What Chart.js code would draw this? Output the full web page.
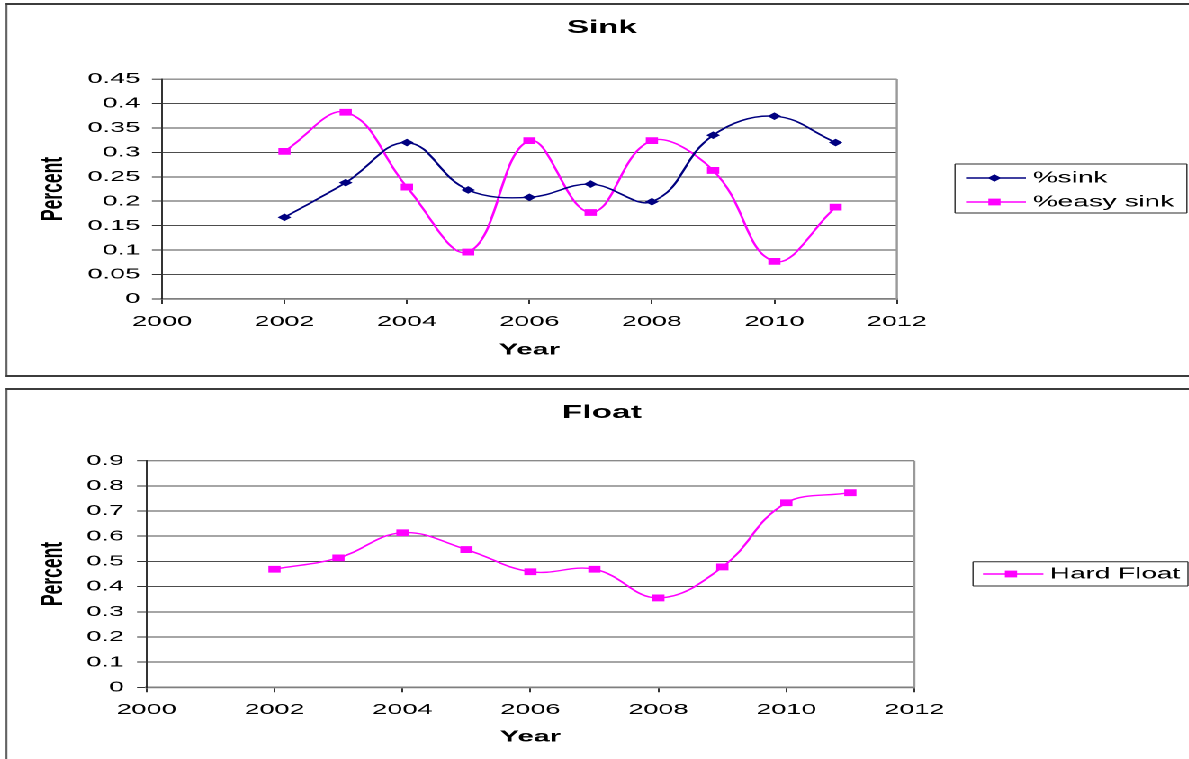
<!DOCTYPE html>
<html>
<head>
<meta charset="utf-8">
<title>Sink and Float</title>
<script src="https://cdn.jsdelivr.net/npm/chart.js@4.4.1/dist/chart.umd.min.js"></script>
<style>
  html, body { margin: 0; padding: 0; background: #fff; overflow: hidden; }
  body { width: 1189px; height: 759px; position: relative; }
  /* the whole sheet is drawn narrow and widened horizontally */
  #stage { position: absolute; left: 0; top: 0; width: 661px; height: 759px;
           transform: scaleX(1.8); transform-origin: 0 0; }
  .panel { position: absolute; box-sizing: border-box; background: #fff;
           border-style: solid; border-color: #3c3c3c; border-width: 2px 0 2px 1.2px; }
  canvas { position: absolute; left: 0; }
</style>
</head>
<body>
<div id="stage">
  <div class="panel" style="left:3.2px; top:3px; width:720px; height:374px;"></div>
  <div class="panel" style="left:3.2px; top:388px; width:720px; height:420px;"></div>
  <canvas id="sinkChart" width="661" height="380" style="top:0px;"></canvas>
  <canvas id="floatChart" width="661" height="379" style="top:380px;"></canvas>
</div>
<script>
// ---- data ----
const years = [2002, 2003, 2004, 2005, 2006, 2007, 2008, 2009, 2010, 2011];
const sinkShare = [0.167, 0.238, 0.320, 0.223, 0.208, 0.235, 0.199, 0.335, 0.374, 0.320];
const easySinkShare = [0.302, 0.382, 0.229, 0.096, 0.324, 0.177, 0.324, 0.263, 0.077, 0.188];
const hardFloatShare = [0.469, 0.514, 0.614, 0.547, 0.459, 0.469, 0.355, 0.478, 0.733, 0.773];

const yearTicks = [2000, 2002, 2004, 2006, 2008, 2010, 2012];
const sinkTicks = [0, 0.05, 0.1, 0.15, 0.2, 0.25, 0.3, 0.35, 0.4, 0.45];
const floatTicks = [0, 0.1, 0.2, 0.3, 0.4, 0.5, 0.6, 0.7, 0.8, 0.9];

// ---- styling ----
const FONT = "'Liberation Sans', Arial, Helvetica, sans-serif";
const NARROW = "'Liberation Sans Narrow', 'Arial Narrow', " + FONT;
const NAVY = '#000080';
const MAGENTA = '#FF00FF';

function toPoints(xs, ys) {
  return xs.map((x, i) => ({ x: x, y: ys[i] }));
}

// Plot frame on the right, chart heading and a boxed legend
const framePlugin = {
  id: 'frame',
  beforeDatasetsDraw(chart, args, o) {
    const { ctx, chartArea: a } = chart;
    ctx.save();
    ctx.strokeStyle = o.frameColor;
    ctx.lineWidth = o.frameWidth;
    ctx.beginPath();
    ctx.moveTo(a.right, a.top);
    ctx.lineTo(a.right, a.bottom);
    ctx.stroke();
    ctx.restore();
  },
  afterDraw(chart, args, o) {
    const ctx = chart.ctx;
    ctx.save();
    ctx.fillStyle = '#000';
    ctx.font = o.titleFont;
    ctx.textAlign = 'center';
    ctx.textBaseline = 'middle';
    ctx.fillText(o.title, o.titleX, o.titleY);

    const L = o.legend;
    ctx.strokeStyle = '#2a2a2a';
    ctx.lineWidth = 1;
    ctx.beginPath();
    ctx.moveTo(L.left, L.top); ctx.lineTo(L.left + L.width, L.top);
    ctx.moveTo(L.left, L.top + L.height); ctx.lineTo(L.left + L.width, L.top + L.height);
    ctx.stroke();
    ctx.lineWidth = 0.7;
    ctx.beginPath();
    ctx.moveTo(L.left, L.top); ctx.lineTo(L.left, L.top + L.height);
    ctx.moveTo(L.left + L.width, L.top); ctx.lineTo(L.left + L.width, L.top + L.height);
    ctx.stroke();

    chart.data.datasets.forEach((ds, i) => {
      const y = L.rows[i];
      ctx.strokeStyle = ds.borderColor;
      ctx.lineWidth = ds.borderWidth;
      ctx.beginPath();
      ctx.moveTo(L.lineFrom, y);
      ctx.lineTo(L.lineTo, y);
      ctx.stroke();
      ctx.fillStyle = ds.pointBackgroundColor;
      Chart.helpers.drawPoint(ctx, {
        pointStyle: ds.pointStyle, radius: ds.pointRadius, rotation: 0, borderWidth: 0
      }, L.markerX, y);
      ctx.fillStyle = '#000';
      ctx.font = L.font;
      ctx.textAlign = 'left';
      ctx.textBaseline = 'middle';
      ctx.fillText(ds.label, L.textX, y);
    });
    ctx.restore();
  }
};

function buildChart(canvasId, cfg) {
  const yMax = cfg.yTicks[cfg.yTicks.length - 1];
  return new Chart(document.getElementById(canvasId), {
    type: 'line',
    data: { datasets: cfg.datasets },
    options: {
      responsive: false,
      animation: false,
      events: [],
      devicePixelRatio: 2,
      layout: { padding: cfg.padding },
      plugins: {
        legend: { display: false },
        tooltip: { enabled: false },
        title: { display: false },
        frame: cfg.frame
      },
      scales: {
        x: {
          type: 'linear',
          position: 'bottom',
          min: yearTicks[0],
          max: yearTicks[yearTicks.length - 1],
          afterBuildTicks: s => { s.ticks = yearTicks.map(v => ({ value: v })); },
          afterFit: s => { s.height = cfg.xHeight; },
          grid: { drawOnChartArea: false, drawTicks: true, tickLength: 5, tickColor: '#333', tickWidth: 1 },
          border: { color: '#7f7f7f', width: 1.8 },
          ticks: {
            autoSkip: false, maxRotation: 0, padding: cfg.xTickPad, color: '#000',
            font: { family: FONT, size: 15 },
            callback: v => String(v)
          },
          title: {
            display: true, text: 'Year', color: '#000',
            font: { family: FONT, size: 16, weight: 'bold' },
            padding: { top: 0, bottom: cfg.xTitlePad }
          }
        },
        y: {
          min: 0,
          max: yMax,
          afterBuildTicks: s => { s.ticks = cfg.yTicks.map(v => ({ value: v })); },
          afterFit: s => { s.width = cfg.yWidth; },
          grid: {
            color: c => c.tick.value === 0 ? 'rgba(0,0,0,0)' : (c.tick.value === yMax ? '#8a8a8a' : '#4d4d4d'),
            lineWidth: c => c.tick.value === yMax ? 1.4 : 1,
            drawTicks: true, tickLength: cfg.yTickLen, tickColor: '#333', tickWidth: 1
          },
          border: { color: '#1e1e1e', width: 0.9 },
          ticks: {
            autoSkip: false, padding: cfg.yTickPad, color: '#000',
            font: { family: FONT, size: 15 },
            callback: v => String(+v.toFixed(2))
          },
          title: {
            display: true, text: 'Percent', color: '#000',
            font: { family: NARROW, size: 17.5, weight: 'bold' },
            padding: { top: 19.3, bottom: 0 }
          }
        }
      }
    },
    plugins: [framePlugin]
  });
}

function lineSeries(label, values, color, style, radius) {
  return {
    label: label,
    data: toPoints(years, values),
    borderColor: color,
    backgroundColor: color,
    pointBackgroundColor: color,
    pointBorderColor: color,
    pointBorderWidth: 0,
    pointStyle: style,
    pointRadius: radius,
    borderWidth: 1.4,
    tension: 0.4,
    fill: false
  };
}

buildChart('sinkChart', {
  datasets: [
    lineSeries('%sink', sinkShare, NAVY, 'rectRot', 3.8),
    lineSeries('%easy sink', easySinkShare, MAGENTA, 'rect', 4.8)
  ],
  yTicks: sinkTicks,
  padding: { left: 0, right: 162.7, top: 79, bottom: 11 },
  xHeight: 70,
  xTickPad: 9,
  xTitlePad: 9.4,
  yWidth: 90,
  yTickLen: 5.6,
  yTickPad: 6.6,
  frame: {
    frameColor: '#9a9a9a', frameWidth: 1.2,
    title: 'Sink', titleX: 334.4, titleY: 28, titleFont: 'bold 18.5px ' + FONT,
    legend: {
      left: 530.6, top: 164, width: 128.8, height: 49, rows: [178, 202],
      lineFrom: 536.7, lineTo: 570, markerX: 552.5, textX: 573.9,
      font: '15.5px ' + FONT
    }
  }
});

buildChart('floatChart', {
  datasets: [
    lineSeries('Hard Float', hardFloatShare, MAGENTA, 'rect', 4.8)
  ],
  yTicks: floatTicks,
  padding: { left: 0, right: 153, top: 80.7, bottom: 6.7 },
  xHeight: 65,
  xTickPad: 8.7,
  xTitlePad: 5.7,
  yWidth: 81.4,
  yTickLen: 5.3,
  yTickPad: 7.2,
  frame: {
    frameColor: '#9a9a9a', frameWidth: 1.2,
    title: 'Float', titleX: 334.4, titleY: 33, titleFont: 'bold 18.5px ' + FONT,
    legend: {
      left: 540.6, top: 181.7, width: 119.4, height: 24.3, rows: [194],
      lineFrom: 546.1, lineTo: 579.7, markerX: 561.7, textX: 583.3,
      font: '15.5px ' + FONT
    }
  }
});
</script>
</body>
</html>
